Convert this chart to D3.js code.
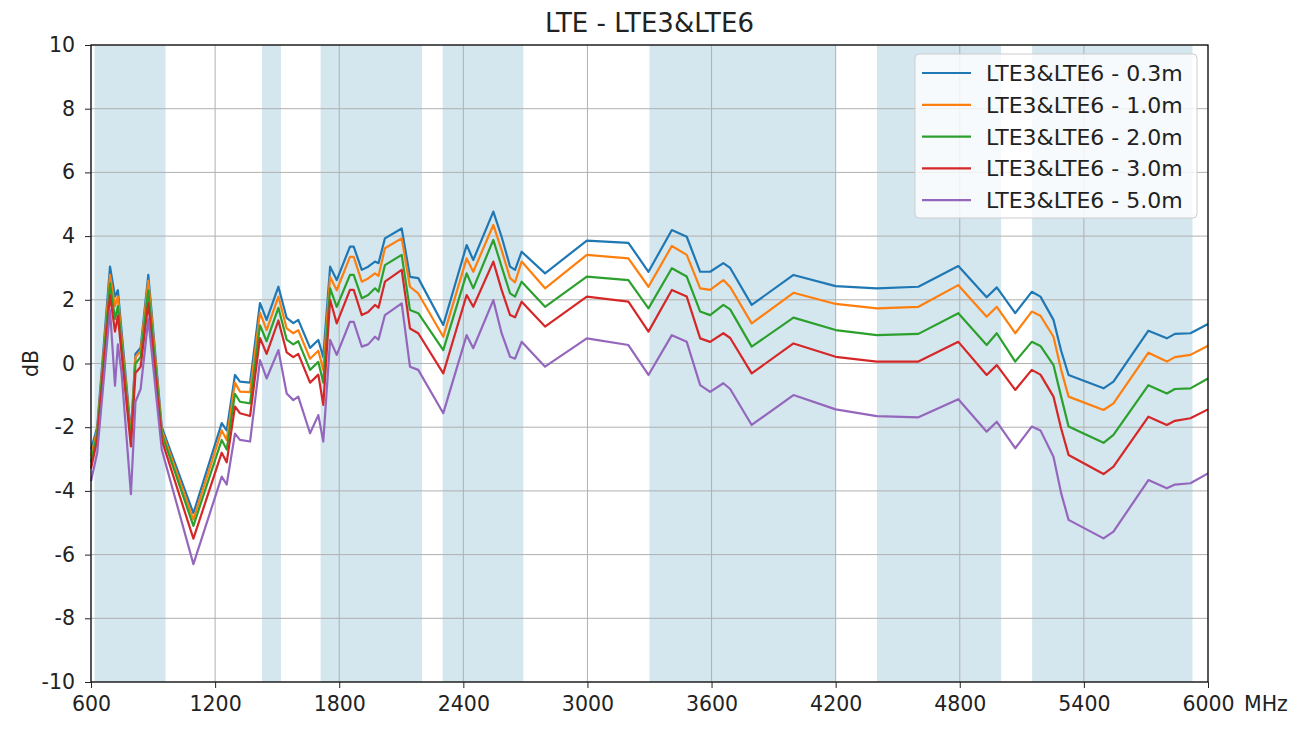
<!DOCTYPE html>
<html>
<head>
<meta charset="utf-8">
<script src="https://cdn.jsdelivr.net/npm/d3@7"></script>
<style>
  html, body { margin: 0; padding: 0; background: #fff; }
  svg { display: block; font-family: "DejaVu Sans", sans-serif; }
</style>
</head>
<body>
<svg id="chart" width="1302" height="731"></svg>
<script>
const title = "LTE - LTE3&LTE6";
const yLabel = "dB";
const xUnit = "MHz";
const xTicks = [600, 1200, 1800, 2400, 3000, 3600, 4200, 4800, 5400, 6000];
const yTicks = [-10, -8, -6, -4, -2, 0, 2, 4, 6, 8, 10];
const bandStarts = [617, 1427, 1710, 2300, 3300, 4400, 5150];
const bandEnds   = [960, 1518, 2200, 2690, 4200, 5000, 5925];
const seriesNames = ["LTE3&LTE6 - 0.3m", "LTE3&LTE6 - 1.0m", "LTE3&LTE6 - 2.0m", "LTE3&LTE6 - 3.0m", "LTE3&LTE6 - 5.0m"];
const seriesColors = ["#1f77b4", "#ff7f0e", "#2ca02c", "#d62728", "#9467bd"];

const freqs = [600, 630, 692, 716, 730, 748, 793, 815, 840, 877,
  942, 1095, 1232, 1256, 1296, 1320, 1369, 1417, 1449, 1506,
  1546, 1578, 1602, 1659, 1699, 1723, 1756, 1788, 1852, 1870,
  1909, 1940, 1973, 1990, 2021, 2102, 2142, 2182, 2303, 2416,
  2448, 2545, 2585, 2626, 2650, 2682, 2795, 2997, 3198, 3295,
  3408, 3480, 3545, 3593, 3657, 3690, 3794, 3996, 4200, 4399,
  4600, 4793, 4930, 4979, 5068, 5148, 5190, 5253, 5290, 5326,
  5495, 5543, 5712, 5801, 5840, 5915, 6000];

const s03 = [-2.7, -2.0, 3.04, 2.1, 2.3, 1.0, -2.2, 0.3, 0.5, 2.78,
  -2.0, -4.7, -1.87, -2.1, -0.36, -0.57, -0.6, 1.9, 1.37, 2.41,
  1.43, 1.27, 1.37, 0.49, 0.74, 0.2, 3.04, 2.62, 3.67, 3.67,
  2.94, 3.04, 3.2, 3.15, 3.93, 4.24, 2.72, 2.68, 1.21, 3.72,
  3.25, 4.77, 3.98, 3.04, 2.94, 3.51, 2.83, 3.86, 3.79, 2.88,
  4.19, 3.98, 2.88, 2.88, 3.15, 3.0, 1.84, 2.78, 2.43, 2.36,
  2.41, 3.06, 2.08, 2.39, 1.58, 2.25, 2.1, 1.37, 0.4, -0.36,
  -0.78, -0.57, 1.03, 0.79, 0.93, 0.95, 1.24];

const s10 = [-2.9, -2.1, 2.78, 1.8, 2.1, 0.8, -2.3, 0.2, 0.4, 2.6,
  -2.1, -4.9, -2.1, -2.4, -0.6, -0.88, -0.9, 1.6, 1.05, 2.1,
  1.1, 0.95, 1.05, 0.15, 0.4, -0.2, 2.72, 2.3, 3.35, 3.35,
  2.57, 2.67, 2.83, 2.75, 3.62, 3.93, 2.41, 2.2, 0.84, 3.3,
  2.88, 4.35, 3.56, 2.68, 2.55, 3.2, 2.36, 3.41, 3.3, 2.41,
  3.69, 3.41, 2.36, 2.31, 2.62, 2.4, 1.26, 2.22, 1.87, 1.73,
  1.78, 2.46, 1.47, 1.78, 0.95, 1.63, 1.5, 0.84, -0.2, -1.04,
  -1.46, -1.25, 0.34, 0.06, 0.2, 0.27, 0.56];

const s20 = [-3.1, -2.2, 2.52, 1.4, 1.8, 0.6, -2.4, 0.0, 0.2, 2.3,
  -2.2, -5.1, -2.4, -2.7, -0.95, -1.2, -1.25, 1.2, 0.7, 1.75,
  0.75, 0.6, 0.7, -0.2, 0.05, -0.6, 2.36, 1.78, 2.78, 2.78,
  2.05, 2.15, 2.36, 2.25, 3.09, 3.41, 1.68, 1.58, 0.42, 2.83,
  2.36, 3.88, 3.04, 2.2, 2.1, 2.57, 1.78, 2.73, 2.62, 1.73,
  2.99, 2.73, 1.63, 1.52, 1.84, 1.7, 0.53, 1.44, 1.05, 0.89,
  0.93, 1.58, 0.58, 0.95, 0.06, 0.68, 0.55, -0.05, -1.04, -1.98,
  -2.49, -2.24, -0.68, -0.94, -0.8, -0.78, -0.47];

const s30 = [-3.3, -2.4, 2.15, 1.0, 1.5, 0.3, -2.6, -0.3, -0.1, 1.9,
  -2.4, -5.5, -2.8, -3.1, -1.35, -1.56, -1.65, 0.8, 0.3, 1.35,
  0.35, 0.2, 0.3, -0.6, -0.35, -1.3, 2.0, 1.26, 2.31, 2.31,
  1.52, 1.62, 1.84, 1.75, 2.57, 2.94, 1.1, 0.95, -0.31, 2.15,
  1.78, 3.2, 2.31, 1.52, 1.45, 1.94, 1.16, 2.1, 1.94, 1.0,
  2.31, 2.1, 0.79, 0.68, 0.95, 0.8, -0.31, 0.63, 0.21, 0.06,
  0.06, 0.68, -0.36, -0.05, -0.83, -0.2, -0.35, -1.04, -2.04, -2.87,
  -3.47, -3.24, -1.67, -1.93, -1.8, -1.72, -1.44];

const s50 = [-3.7, -2.8, 1.68, -0.7, 0.6, -0.3, -4.1, -1.2, -0.8, 1.4,
  -2.7, -6.3, -3.55, -3.8, -2.2, -2.4, -2.45, 0.11, -0.47, 0.42,
  -0.94, -1.15, -1.04, -2.19, -1.62, -2.45, 0.74, 0.27, 1.31, 1.31,
  0.53, 0.6, 0.84, 0.75, 1.52, 1.89, -0.1, -0.2, -1.56, 0.89,
  0.48, 1.99, 0.95, 0.21, 0.15, 0.68, -0.1, 0.79, 0.58, -0.36,
  0.89, 0.68, -0.68, -0.89, -0.62, -0.8, -1.93, -0.99, -1.44, -1.65,
  -1.69, -1.12, -2.14, -1.83, -2.66, -1.98, -2.1, -2.93, -4.07, -4.91,
  -5.49, -5.28, -3.66, -3.92, -3.8, -3.76, -3.45];

const seriesValues = [s03, s10, s20, s30, s50];

// ---- layout ----
const margin = { left: 91, right: 94, top: 45, bottom: 49 };
const W = 1302, H = 731;
const iw = W - margin.left - margin.right;
const ih = H - margin.top - margin.bottom;
const tickFont = 20.5, legendFont = 22, titleFont = 26;

const svg = d3.select("#chart");
const g = svg.append("g").attr("transform", `translate(${margin.left},${margin.top})`);

const x = d3.scaleLinear().domain([600, 6000]).range([0, iw]);
const y = d3.scaleLinear().domain([-10, 10]).range([ih, 0]);

// bands
g.append("g").selectAll("rect")
  .data(bandStarts.map((s, i) => [s, bandEnds[i]]))
  .join("rect")
  .attr("x", d => x(d[0]))
  .attr("width", d => x(d[1]) - x(d[0]))
  .attr("y", 0)
  .attr("height", ih)
  .attr("fill", "#d4e6ee");

// grid
const grid = g.append("g").attr("stroke", "#b0b0b0").attr("stroke-width", 1);
grid.selectAll(".vx").data(xTicks).join("line")
  .attr("x1", d => x(d)).attr("x2", d => x(d)).attr("y1", 0).attr("y2", ih);
grid.selectAll(".hy").data(yTicks).join("line")
  .attr("y1", d => y(d)).attr("y2", d => y(d)).attr("x1", 0).attr("x2", iw);

// lines
const line = d3.line().x((d, i) => x(freqs[i])).y(d => y(d));
g.append("g").selectAll("path")
  .data(seriesValues)
  .join("path")
  .attr("d", d => line(d))
  .attr("fill", "none")
  .attr("stroke", (d, i) => seriesColors[i])
  .attr("stroke-width", 2.2)
  .attr("stroke-linejoin", "round");

// frame
g.append("rect").attr("x", 0).attr("y", 0).attr("width", iw).attr("height", ih)
  .attr("fill", "none").attr("stroke", "#000").attr("stroke-width", 1.2);

// axes
const xAxis = g.append("g").attr("transform", `translate(0,${ih})`)
  .call(d3.axisBottom(x).tickValues(xTicks).tickFormat(d3.format("d")).tickSize(6).tickPadding(8));
const yAxis = g.append("g")
  .call(d3.axisLeft(y).tickValues(yTicks).tickFormat(d => d).tickSize(6).tickPadding(10));
[xAxis, yAxis].forEach(a => {
  a.select(".domain").remove();
  a.selectAll("text").attr("font-size", tickFont).attr("fill", "#222").attr("font-family", "DejaVu Sans, sans-serif");
  a.selectAll("line").attr("stroke", "#222");
});

// MHz unit (sits right after the last x tick label)
svg.append("text").attr("x", margin.left + iw + 36).attr("y", margin.top + ih + 14 + tickFont * 0.71)
  .attr("font-size", tickFont).attr("fill", "#222").text(xUnit);

// title
svg.append("text").attr("x", margin.left + iw / 2).attr("y", 32)
  .attr("text-anchor", "middle").attr("font-size", titleFont).attr("fill", "#222").text(title);

// y label
svg.append("text").attr("transform", `translate(38,${margin.top + ih / 2}) rotate(-90)`)
  .attr("text-anchor", "middle").attr("font-size", tickFont).attr("fill", "#222").text(yLabel);

// legend
const lgx = 915 - margin.left, lgy = 54 - margin.top;
const legend = g.append("g").attr("transform", `translate(${lgx},${lgy})`);
legend.append("rect").attr("width", 282).attr("height", 164).attr("rx", 4)
  .attr("fill", "#ffffff").attr("fill-opacity", 0.8).attr("stroke", "#cccccc");
seriesNames.forEach((n, i) => {
  const yy = 19 + i * 31.8;
  legend.append("line").attr("x1", 7).attr("x2", 56).attr("y1", yy).attr("y2", yy)
    .attr("stroke", seriesColors[i]).attr("stroke-width", 2.2);
  legend.append("text").attr("x", 71).attr("y", yy + 8).attr("font-size", legendFont).attr("fill", "#222").text(n);
});
</script>
</body>
</html>
